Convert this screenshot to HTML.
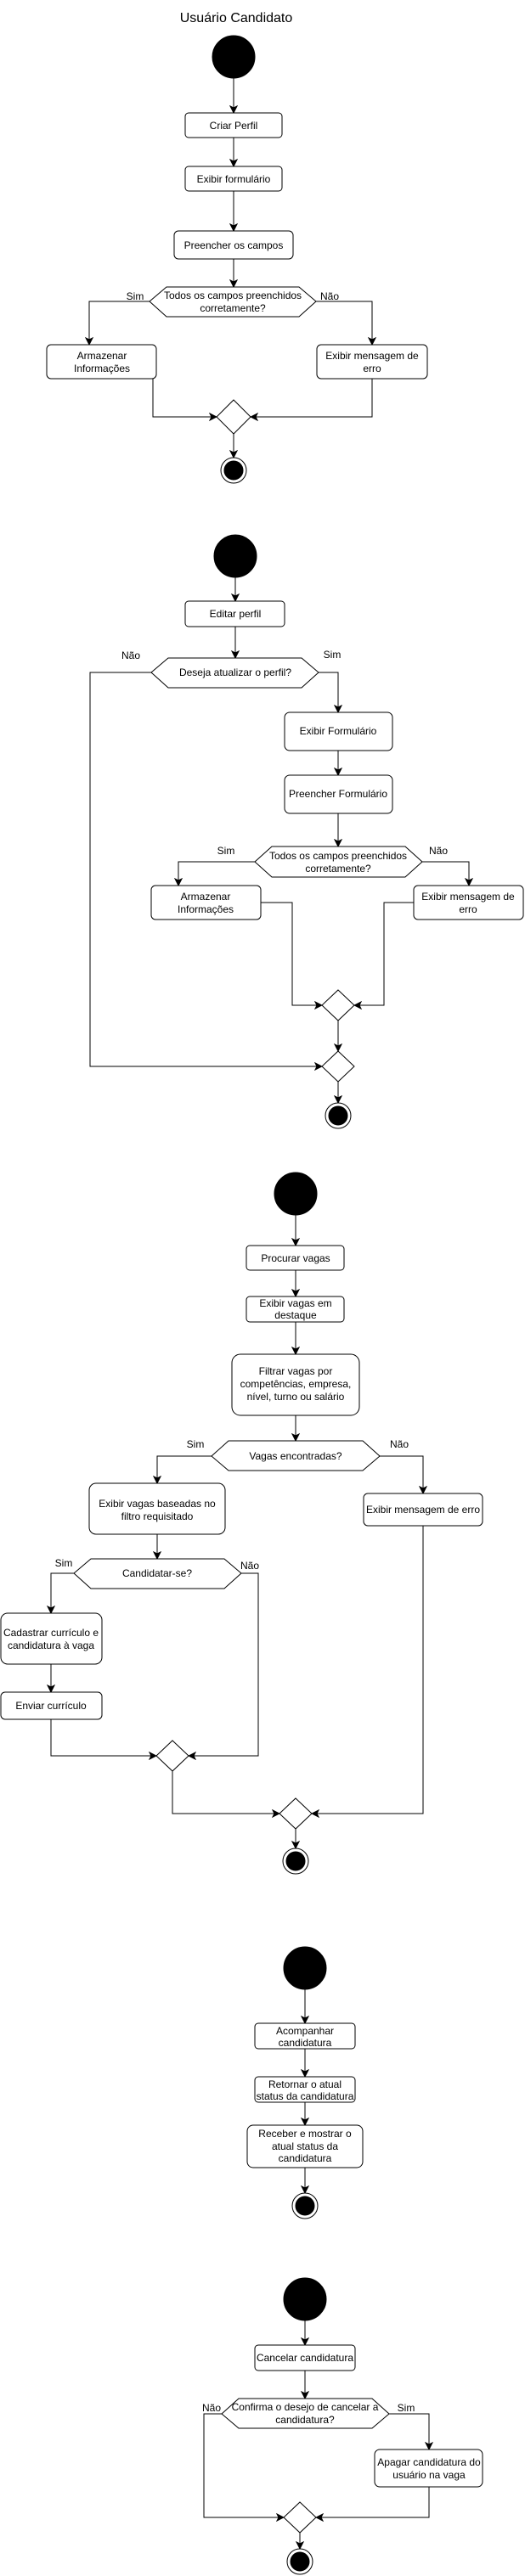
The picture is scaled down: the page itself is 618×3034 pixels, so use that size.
<!DOCTYPE html>
<html><head><meta charset="utf-8"><style>
html,body{margin:0;padding:0;background:#fff;}
svg{display:block;}
text{font-family:"Liberation Sans",Arial,sans-serif;font-size:12px;fill:#000;}
</style></head><body>
<svg width="618" height="3034" viewBox="0 0 618 3034" xmlns="http://www.w3.org/2000/svg">
<defs>
<marker id="a" markerWidth="10" markerHeight="10" refX="9" refY="5" orient="auto" markerUnits="userSpaceOnUse">
<path d="M1,1 L9,5 L1,9 L3,5 z" fill="#000" stroke="#000" stroke-width="1"/>
</marker>
</defs>
<g fill="none" stroke="#000" stroke-width="1">
<!-- Section 1 -->
<circle cx="275" cy="67" r="25" fill="#000"/>
<path d="M275,92 V133" marker-end="url(#a)"/>
<rect x="218" y="133" width="114" height="29" rx="4" fill="#fff"/>
<path d="M275,162 V196" marker-end="url(#a)"/>
<rect x="218" y="196" width="114" height="29" rx="4" fill="#fff"/>
<path d="M275,225 V272" marker-end="url(#a)"/>
<rect x="205" y="272" width="140" height="33" rx="5" fill="#fff"/>
<path d="M275,305 V338" marker-end="url(#a)"/>
<polygon points="176,355 196,338 352,338 372,355 352,373 196,373" fill="#fff"/>
<path d="M176,355 H105 V406" marker-end="url(#a)"/>
<path d="M372,355 H438 V406" marker-end="url(#a)"/>
<rect x="55" y="406" width="129" height="40" rx="5" fill="#fff"/>
<rect x="373" y="406" width="130" height="40" rx="5" fill="#fff"/>
<path d="M180,446 V491 H255" marker-end="url(#a)"/>
<path d="M438,446 V491 H295" marker-end="url(#a)"/>
<polygon points="275,471 295,491 275,511 255,491" fill="#fff"/>
<path d="M275,511 V539" marker-end="url(#a)"/>
<circle cx="275" cy="554" r="15" fill="#fff"/>
<circle cx="275" cy="554" r="11" fill="#000"/>

<!-- Section 2 -->
<circle cx="277" cy="655" r="25" fill="#000"/>
<path d="M277,680 V708" marker-end="url(#a)"/>
<rect x="218" y="708" width="117" height="30" rx="4" fill="#fff"/>
<path d="M277,738 V775" marker-end="url(#a)"/>
<polygon points="178,792 198,775 355,775 375,792 355,810 198,810" fill="#fff"/>
<path d="M178,792 H106 V1256 H379" marker-end="url(#a)"/>
<path d="M375,792 H398 V839" marker-end="url(#a)"/>
<rect x="335" y="839" width="127" height="45" rx="6" fill="#fff"/>
<path d="M398,884 V913" marker-end="url(#a)"/>
<rect x="335" y="913" width="127" height="45" rx="6" fill="#fff"/>
<path d="M398,958 V997" marker-end="url(#a)"/>
<polygon points="300,1015 320,997 477,997 497,1015 477,1033 320,1033" fill="#fff"/>
<path d="M300,1015 H210 V1043" marker-end="url(#a)"/>
<path d="M497,1015 H552 V1043" marker-end="url(#a)"/>
<rect x="178" y="1043" width="129" height="40" rx="5" fill="#fff"/>
<rect x="487" y="1043" width="129" height="40" rx="5" fill="#fff"/>
<path d="M307,1063 H344 V1184 H379" marker-end="url(#a)"/>
<path d="M487,1063 H452 V1184 H417" marker-end="url(#a)"/>
<polygon points="398,1166 417,1184 398,1202 379,1184" fill="#fff"/>
<path d="M398,1202 V1238" marker-end="url(#a)"/>
<polygon points="398,1238 417,1256 398,1274 379,1256" fill="#fff"/>
<path d="M398,1274 V1299" marker-end="url(#a)"/>
<circle cx="398" cy="1314" r="15" fill="#fff"/>
<circle cx="398" cy="1314" r="11" fill="#000"/>

<!-- Section 3 -->
<circle cx="348" cy="1406" r="25" fill="#000"/>
<path d="M348,1431 V1467" marker-end="url(#a)"/>
<rect x="290" y="1467" width="115" height="29" rx="4" fill="#fff"/>
<path d="M348,1496 V1527" marker-end="url(#a)"/>
<rect x="290" y="1527" width="115" height="30" rx="4" fill="#fff"/>
<path d="M348,1557 V1595" marker-end="url(#a)"/>
<rect x="273" y="1595" width="150" height="72" rx="10" fill="#fff"/>
<path d="M348,1667 V1697" marker-end="url(#a)"/>
<polygon points="249,1715 269,1697 427,1697 447,1715 427,1732 269,1732" fill="#fff"/>
<path d="M249,1715 H185 V1747" marker-end="url(#a)"/>
<path d="M447,1715 H498 V1759" marker-end="url(#a)"/>
<rect x="105" y="1747" width="160" height="60" rx="8" fill="#fff"/>
<rect x="428" y="1759" width="140" height="38" rx="5" fill="#fff"/>
<path d="M185,1807 V1836" marker-end="url(#a)"/>
<polygon points="87,1853 107,1836 264,1836 284,1853 264,1871 107,1871" fill="#fff"/>
<path d="M87,1853 H60 V1900" marker-end="url(#a)"/>
<rect x="1" y="1900" width="119" height="60" rx="8" fill="#fff"/>
<path d="M60,1960 V1993" marker-end="url(#a)"/>
<rect x="1" y="1993" width="119" height="32" rx="5" fill="#fff"/>
<path d="M60,2025 V2068 H184" marker-end="url(#a)"/>
<path d="M284,1853 H304 V2068 H222" marker-end="url(#a)"/>
<polygon points="203,2050 222,2068 203,2086 184,2068" fill="#fff"/>
<path d="M203,2086 V2136 H329" marker-end="url(#a)"/>
<path d="M498,1797 V2136 H367" marker-end="url(#a)"/>
<polygon points="348,2118 367,2136 348,2154 329,2136" fill="#fff"/>
<path d="M348,2154 V2177" marker-end="url(#a)"/>
<circle cx="348" cy="2192" r="15" fill="#fff"/>
<circle cx="348" cy="2192" r="11" fill="#000"/>

<!-- Section 4 -->
<circle cx="359" cy="2318" r="25" fill="#000"/>
<path d="M359,2343 V2383" marker-end="url(#a)"/>
<rect x="300" y="2383" width="118" height="30" rx="4" fill="#fff"/>
<path d="M359,2413 V2446" marker-end="url(#a)"/>
<rect x="300" y="2446" width="118" height="30" rx="4" fill="#fff"/>
<path d="M359,2476 V2503" marker-end="url(#a)"/>
<rect x="291" y="2503" width="136" height="50" rx="7" fill="#fff"/>
<path d="M359,2553 V2583" marker-end="url(#a)"/>
<circle cx="359" cy="2598" r="15" fill="#fff"/>
<circle cx="359" cy="2598" r="11" fill="#000"/>

<!-- Section 5 -->
<circle cx="359" cy="2708" r="25" fill="#000"/>
<path d="M359,2733 V2762" marker-end="url(#a)"/>
<rect x="300" y="2762" width="118" height="30" rx="4" fill="#fff"/>
<path d="M359,2792 V2825" marker-end="url(#a)"/>
<polygon points="261,2843 281,2825 438,2825 458,2843 438,2860 281,2860" fill="#fff"/>
<path d="M261,2843 H240 V2965 H334" marker-end="url(#a)"/>
<path d="M458,2843 H505 V2885" marker-end="url(#a)"/>
<rect x="441" y="2885" width="127" height="44" rx="6" fill="#fff"/>
<path d="M505,2929 V2965 H372" marker-end="url(#a)"/>
<polygon points="353,2947 372,2965 353,2983 334,2965" fill="#fff"/>
<path d="M353,2983 V3002" marker-end="url(#a)"/>
<circle cx="353" cy="3017" r="15" fill="#fff"/>
<circle cx="353" cy="3017" r="11" fill="#000"/>
</g>

<g text-anchor="middle">
<text x="278" y="26" style="font-size:16px">Usuário Candidato</text>
<text x="275" y="152">Criar Perfil</text>
<text x="275" y="215">Exibir formulário</text>
<text x="275" y="293">Preencher os campos</text>
<text x="274" y="352">Todos os campos preenchidos</text>
<text x="274" y="367">corretamente?</text>
<text x="159" y="353">Sim</text>
<text x="388" y="353">Não</text>
<text x="120" y="423">Armazenar</text>
<text x="120" y="438">Informações</text>
<text x="438" y="423">Exibir mensagem de</text>
<text x="438" y="438">erro</text>

<text x="277" y="727">Editar perfil</text>
<text x="277" y="796">Deseja atualizar o perfil?</text>
<text x="154" y="776">Não</text>
<text x="391" y="775">Sim</text>
<text x="398" y="865">Exibir Formulário</text>
<text x="398" y="939">Preencher Formulário</text>
<text x="398" y="1012">Todos os campos preenchidos</text>
<text x="398" y="1027">corretamente?</text>
<text x="266" y="1006">Sim</text>
<text x="516" y="1006">Não</text>
<text x="242" y="1060">Armazenar</text>
<text x="242" y="1075">Informações</text>
<text x="551" y="1060">Exibir mensagem de</text>
<text x="551" y="1075">erro</text>

<text x="348" y="1486">Procurar vagas</text>
<text x="348" y="1539">Exibir vagas em</text>
<text x="348" y="1553">destaque</text>
<text x="348" y="1619">Filtrar vagas por</text>
<text x="348" y="1634">competências, empresa,</text>
<text x="348" y="1649">nível, turno ou salário</text>
<text x="348" y="1719">Vagas encontradas?</text>
<text x="230" y="1705">Sim</text>
<text x="470" y="1705">Não</text>
<text x="185" y="1775">Exibir vagas baseadas no</text>
<text x="185" y="1790">filtro requisitado</text>
<text x="498" y="1782">Exibir mensagem de erro</text>
<text x="185" y="1857">Candidatar-se?</text>
<text x="75" y="1845">Sim</text>
<text x="294" y="1848">Não</text>
<text x="60" y="1927">Cadastrar currículo e</text>
<text x="60" y="1942">candidatura à vaga</text>
<text x="60" y="2013">Enviar currículo</text>

<text x="359" y="2396">Acompanhar</text>
<text x="359" y="2410">candidatura</text>
<text x="359" y="2459">Retornar o atual</text>
<text x="359" y="2473">status da candidatura</text>
<text x="359" y="2517">Receber e mostrar o</text>
<text x="359" y="2532">atual status da</text>
<text x="359" y="2546">candidatura</text>

<text x="359" y="2781">Cancelar candidatura</text>
<text x="359" y="2839">Confirma o desejo de cancelar a</text>
<text x="359" y="2854">candidatura?</text>
<text x="249" y="2840">Não</text>
<text x="478" y="2840">Sim</text>
<text x="505" y="2904">Apagar candidatura do</text>
<text x="505" y="2919">usuário na vaga</text>
</g>
</svg>
</body></html>
